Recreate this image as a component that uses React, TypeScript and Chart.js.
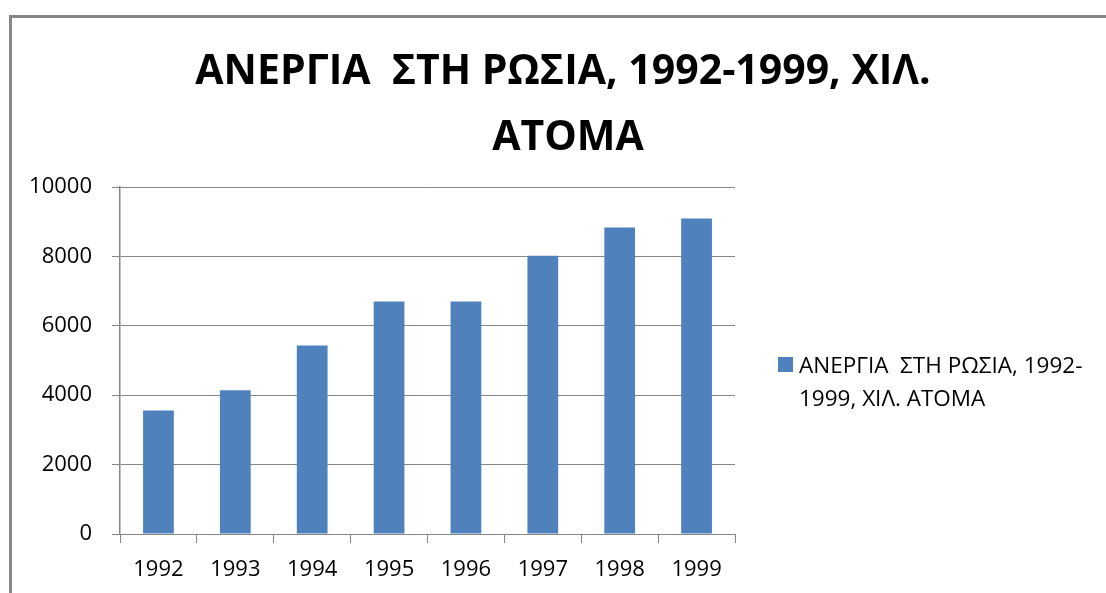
import React, { useEffect, useRef } from "react";
import { Chart, registerables } from "chart.js";

Chart.register(...registerables);

const years = ["1992", "1993", "1994", "1995", "1996", "1997", "1998", "1999"];
const unemployment = [3560, 4140, 5430, 6700, 6700, 8020, 8830, 9090];
const yTicks = [0, 2000, 4000, 6000, 8000, 10000];
const seriesLabel = "ΑΝΕΡΓΙΑ  ΣΤΗ ΡΩΣΙΑ, 1992-1999, ΧΙΛ. ΑΤΟΜΑ";
const titleLines = ["ΑΝΕΡΓΙΑ  ΣΤΗ ΡΩΣΙΑ, 1992-1999, ΧΙΛ.", "ΑΤΟΜΑ"];
const legendLines = ["ΑΝΕΡΓΙΑ  ΣΤΗ ΡΩΣΙΑ, 1992-", "1999, ΧΙΛ. ΑΤΟΜΑ"];

const BAR = "#4F81BD";
const GRID = "#868686";
const FONT = "'Open Sans', 'DejaVu Sans', sans-serif";

export default function App() {
  const ref = useRef<HTMLCanvasElement | null>(null);

  useEffect(() => {
    if (!ref.current) return;

    const decor = {
      id: "decor",
      afterDraw(chart: any) {
        const ctx = chart.ctx;
        ctx.save();
        // frame
        ctx.fillStyle = GRID;
        ctx.fillRect(9, 15, 3, 593);
        ctx.fillRect(9, 15, 1106, 3);
        // title
        ctx.fillStyle = "#000";
        ctx.font = `bold 41px ${FONT}`;
        ctx.textAlign = "center";
        ctx.textBaseline = "alphabetic";
        ctx.fillText(titleLines[0], 563, 84);
        ctx.fillText(titleLines[1], 568, 150);
        // legend
        ctx.fillStyle = BAR;
        ctx.fillRect(778, 357, 15, 15);
        ctx.fillStyle = "#000";
        ctx.font = `22.5px ${FONT}`;
        ctx.textAlign = "left";
        ctx.fillText(legendLines[0], 799, 373);
        ctx.fillText(legendLines[1], 799, 406);
        ctx.restore();
      },
    };

    const chart = new Chart(ref.current, {
      type: "bar",
      data: {
        labels: years,
        datasets: [
          {
            label: seriesLabel,
            data: unemployment,
            backgroundColor: BAR,
            borderWidth: 0,
            categoryPercentage: 0.4,
            barPercentage: 1,
          },
        ],
      },
      options: {
        animation: false,
        responsive: false,
        layout: { padding: { top: 187, right: 371, left: 0, bottom: 0 } },
        plugins: {
          legend: { display: false },
          title: { display: false },
          tooltip: { enabled: false },
        },
        scales: {
          x: {
            grid: {
              display: true,
              drawOnChartArea: false,
              drawTicks: true,
              tickLength: 9,
              color: GRID,
              offset: true,
            },
            border: { display: true, color: GRID, width: 1 },
            ticks: {
              color: "#000",
              font: { family: FONT, size: 22 },
              padding: 14,
              maxRotation: 0,
            },
            afterFit: (s: any) => {
              s.height = 59;
            },
          },
          y: {
            min: yTicks[0],
            max: yTicks[yTicks.length - 1],
            afterBuildTicks: (s: any) => {
              s.ticks = yTicks.map((v) => ({ value: v }));
            },
            grid: { color: GRID, tickLength: 8, drawTicks: true },
            border: { display: true, color: GRID, width: 1.5 },
            ticks: {
              color: "#000",
              font: { family: FONT, size: 22 },
              padding: 20,
              callback: (v: any) => String(v),
            },
            afterFit: (s: any) => {
              s.width = 120;
            },
          },
        },
      },
      plugins: [decor],
    });
    return () => chart.destroy();
  }, []);

  return (
    <div style={{ position: "absolute", left: 0, top: 0, width: 1106, height: 593, background: "#fff" }}>
      <canvas ref={ref} width={1106} height={593} style={{ display: "block" }} />
    </div>
  );
}
